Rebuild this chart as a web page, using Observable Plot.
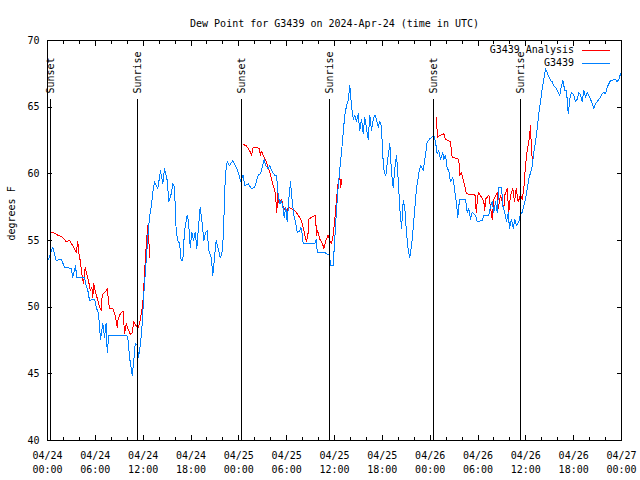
<!DOCTYPE html>
<html><head><meta charset="utf-8">
<script src="https://cdn.jsdelivr.net/npm/d3@7"></script>
<script src="https://cdn.jsdelivr.net/npm/@observablehq/plot@0.6"></script>
<style>body{margin:0;background:#fff} svg path, svg line{shape-rendering:crispEdges}</style>
</head><body><div id="chart"></div>
<script>
// ---- data (hours since 2024-04-24 00:00 UTC, dew point in °F) ----
const obsHours = [0.13,0.66,1.09,1.72,2.13,2.97,3.17,3.51,3.68,4.64,4.85,5.06,5.27,5.90,6.11,6.40,6.65,6.94,7.15,7.36,7.49,7.69,9.87,10.07,10.29,10.62,10.83,11.00,11.25,11.42,11.67,11.88,12.08,12.38,12.58,12.80,13.01,13.21,13.42,13.84,14.17,14.46,14.68,15.02,15.22,15.52,15.72,15.93,16.14,16.34,16.56,16.77,16.97,17.19,17.52,17.69,17.90,18.10,18.31,18.53,18.73,18.94,19.15,19.36,19.61,19.82,20.03,20.23,20.53,20.74,20.95,21.16,21.36,21.66,21.86,22.08,22.20,22.33,22.54,22.83,23.24,23.67,24.05,24.21,24.54,24.74,25.18,25.59,26.00,26.43,26.72,26.97,27.18,27.38,27.68,27.88,28.22,28.51,28.73,28.94,29.14,29.35,29.57,29.69,29.89,30.07,30.27,30.48,30.70,30.90,31.11,31.32,31.65,31.77,31.99,32.07,33.53,33.74,33.83,34.78,35.00,35.34,35.54,35.84,35.96,36.16,36.38,36.67,36.88,37.09,37.29,37.51,37.72,37.92,38.13,38.35,38.55,38.76,38.97,39.17,39.39,39.60,39.80,40.01,40.23,40.43,40.64,40.86,41.06,41.27,41.48,41.68,41.90,42.02,42.24,42.44,42.74,42.94,43.15,43.36,43.57,43.78,43.99,44.19,44.41,44.62,44.82,45.03,45.25,45.45,45.66,45.87,46.07,46.29,46.63,46.83,47.13,47.33,47.63,47.92,48.46,48.67,48.88,49.08,49.30,49.59,49.71,49.92,50.14,50.34,50.55,50.84,51.05,51.27,51.47,51.68,52.43,52.65,52.85,53.06,53.27,53.69,53.90,54.53,54.73,55.36,55.57,55.78,55.98,56.20,56.41,56.61,56.95,57.11,57.36,57.58,57.79,57.95,58.20,58.42,58.62,58.83,59.12,59.33,59.55,59.75,59.96,60.17,60.37,60.59,60.80,61.00,61.21,61.43,61.63,61.84,62.05,62.26,62.47,62.81,63.10,63.31,63.51,63.81,64.06,64.26,64.44,64.64,64.89,65.10,65.32,65.52,65.73,66.02,66.23,66.45,66.65,66.86,67.07,67.27,67.49,67.70,67.90,68.11,68.33,68.53,68.74,68.95,69.16,69.37,69.58,69.78,70.00,70.21,70.41,70.62,70.84,71.04,71.25,71.47,71.67,71.88];
const obsDewpt = [53.6,54.5,53.5,53.6,53.0,52.9,52.25,53.1,52.2,52.2,51.6,51.25,50.5,50.6,50.0,49.5,47.6,48.8,47.75,48.8,46.6,47.9,47.9,47.75,46.25,44.9,46.0,47.25,47.2,46.25,47.25,48.75,51.0,53.5,55.25,56.75,57.5,58.6,59.4,58.9,60.25,59.25,60.4,59.5,57.9,58.5,59.25,59.0,55.75,55.0,54.8,53.5,53.5,55.75,56.9,56.4,54.5,55.6,55.0,55.6,54.4,56.0,57.5,56.5,55.0,55.6,55.75,54.25,53.75,52.4,53.75,55.0,54.5,53.75,53.9,55.5,58.25,60.0,60.9,60.6,61.0,60.5,59.9,59.4,59.9,59.1,59.25,58.9,59.0,59.9,60.0,60.6,61.1,60.6,60.4,60.6,60.1,59.9,59.9,58.4,57.75,58.0,57.4,56.75,57.5,56.4,58.1,59.4,57.9,56.9,56.4,55.6,55.7,56.0,55.4,54.75,54.75,55.1,54.1,54.1,54.0,53.9,53.1,53.1,54.4,56.4,58.4,60.4,61.6,63.1,64.4,65.1,65.5,66.6,65.1,64.1,64.4,63.9,64.5,63.25,64.1,63.0,64.25,63.4,62.6,64.4,63.25,64.1,64.4,64.1,63.5,63.9,63.6,61.6,60.1,59.9,61.4,62.25,60.1,59.0,60.4,61.4,59.6,57.4,55.9,58.0,57.4,55.6,54.25,53.75,54.6,55.9,57.4,58.9,60.25,60.6,60.25,61.1,62.4,62.6,62.9,62.4,61.5,61.75,61.1,61.6,61.1,61.4,60.4,60.25,59.4,59.75,58.9,57.9,56.75,58.1,58.1,57.1,57.4,56.6,57.1,56.9,56.4,56.5,56.9,56.9,57.6,57.9,57.1,57.9,57.1,59.0,59.0,57.6,57.1,56.4,57.1,55.9,56.6,55.9,56.6,56.1,56.4,57.0,57.1,57.6,58.1,58.9,59.6,60.1,60.6,61.6,62.4,63.4,64.5,65.4,66.4,67.1,67.9,67.4,67.0,66.9,66.6,66.4,66.1,65.9,66.5,67.0,66.25,66.25,64.5,65.6,66.1,65.9,65.4,65.6,66.1,65.9,65.4,66.25,65.75,66.1,65.9,65.6,65.25,64.9,65.25,65.4,65.6,65.75,66.0,66.1,66.0,66.5,66.75,67.0,67.0,67.1,67.1,66.9,67.1,67.5];

// analysis series (null = gap between runs)
const anaHours = [0.46,0.88,1.29,1.72,2.13,2.35,2.76,2.97,3.39,3.60,3.80,3.93,4.10,4.30,4.52,4.73,4.93,5.14,5.36,5.56,5.68,5.81,5.98,6.31,6.52,6.74,6.86,7.36,7.49,7.65,7.78,8.19,8.49,8.74,8.82,9.16,9.49,9.66,9.87,10.07,10.41,10.62,10.83,11.13,11.42,11.63,11.75,11.95,12.08,12.26,12.46,12.58,12.71,12.83,
  18.0,
  24.55,24.96,25.38,25.59,25.80,26.22,26.56,26.72,26.84,27.13,27.38,27.68,27.88,28.10,28.31,28.51,28.64,28.76,28.89,29.06,29.35,29.57,29.98,30.19,30.61,31.02,31.45,31.77,32.07,32.28,32.49,32.70,32.78,33.12,33.62,33.74,33.87,34.16,34.50,34.66,34.91,35.21,35.41,35.62,35.84,36.04,36.25,36.47,36.67,36.79,36.92,
  42.0,
  48.76,48.92,49.30,49.71,49.92,50.55,50.76,51.59,51.72,51.93,52.22,52.52,52.65,53.69,53.77,54.03,54.44,54.73,54.85,54.94,55.36,55.78,55.98,56.41,56.53,56.82,57.04,57.24,57.36,57.66,57.86,58.08,58.37,58.58,58.79,59.04,59.33,59.55,59.75,59.96,60.17,60.37,60.59,60.71,60.88];
const anaDewpt = [55.6,55.55,55.4,55.3,55.1,54.9,55.0,54.8,54.4,54.1,54.9,54.1,53.5,52.5,51.75,53.0,52.5,52.0,51.25,51.5,50.75,51.75,51.25,50.5,50.0,49.75,50.9,51.25,51.4,50.5,49.9,49.9,49.4,48.5,49.0,49.55,49.7,48.0,48.75,48.4,47.95,48.1,48.9,48.6,48.5,49.0,49.5,50.25,51.5,53.5,55.25,56.1,55.0,53.75,
  null,
  62.2,62.1,61.7,61.4,62.0,62.0,61.9,61.4,61.7,61.3,61.0,60.5,60.1,59.6,59.1,58.75,58.1,57.1,58.5,57.75,58.1,57.5,57.1,57.5,57.4,57.25,56.9,56.6,56.0,55.4,54.9,55.6,56.6,56.75,56.9,55.4,55.75,55.1,54.75,54.4,55.0,55.4,55.0,54.75,55.4,56.6,58.1,59.4,59.75,59.0,59.6,
  null,
  64.25,62.75,62.9,63.0,62.6,62.4,61.25,61.1,59.9,60.1,59.4,58.6,58.5,58.4,57.1,58.6,58.25,57.9,57.25,58.1,58.4,56.6,58.1,58.6,57.4,58.4,57.9,57.4,58.4,58.9,57.1,58.4,58.9,57.9,58.9,57.9,58.4,58.1,58.9,60.6,61.75,62.4,63.6,61.6,60.9];

const sunHours  = [0.38, 11.33, 24.37, 35.42, 48.46, 59.38];
const sunLabels = ["Sunset","Sunrise","Sunset","Sunrise","Sunset","Sunrise"];
const yTicks = [40,45,50,55,60,65,70];
const seriesNames = ["G3439 Analysis","G3439"];
const seriesColors = ["#ff0000","#0080ff"];
const titleText = "Dew Point for G3439 on 2024-Apr-24 (time in UTC)";
const yLabel = "degrees F";

// ---- build tables ----
const T0 = Date.UTC(2024,3,24);
const toDate = h => new Date(T0 + h*3600000);
const obs = obsHours.map((h,i) => ({t: toDate(h), v: obsDewpt[i]}));
const ana = anaHours.map((h,i) => ({t: toDate(h), v: anaDewpt[i]}));
const sun = sunHours.map((h,i) => ({t: toDate(h), label: sunLabels[i]}));
const start = toDate(0), end = toDate(72);
const majorTicks = d3.utcHour.every(6).range(start, toDate(72.01));
const minorTicks = d3.utcHour.every(2).range(start, toDate(72.01));
const fmt = d3.utcFormat("%m/%d\n%H:%M");

const chart = Plot.plot({
  width: 640, height: 480,
  marginLeft: 47, marginRight: 19, marginTop: 40, marginBottom: 40,
  style: {fontFamily: "DejaVu Sans Mono, monospace", fontSize: "10px", background: "#fff", color: "#000"},
  x: {type: "utc", domain: [start, end]},
  y: {domain: [40, 70]},
  marks: [
    Plot.line(ana, {x: "t", y: "v", stroke: seriesColors[0], strokeWidth: 1}),
    Plot.line(obs, {x: "t", y: "v", stroke: seriesColors[1], strokeWidth: 1}),
    Plot.ruleX(sun, {x: "t", stroke: "#000", strokeWidth: 1, insetTop: 59}),
    Plot.text(sun, {x: "t", text: "label", frameAnchor: "top", dy: 53, rotate: -90, textAnchor: "start", lineAnchor: "middle", fill: "#000"}),
    Plot.frame({stroke: "#000"}),
    Plot.axisX({anchor: "bottom", ticks: minorTicks, tickSize: -3, text: null, label: null}),
    Plot.axisX({anchor: "bottom", ticks: majorTicks, tickSize: -5, text: null, label: null}),
    Plot.axisX({anchor: "top", ticks: minorTicks, tickSize: -3, text: null, label: null}),
    Plot.axisX({anchor: "top", ticks: majorTicks, tickSize: -5, text: null, label: null}),
    Plot.axisX({anchor: "bottom", ticks: majorTicks, tickSize: 0, tickPadding: 9, tickFormat: fmt, lineHeight: 1.35, label: null}),
    Plot.axisY({anchor: "left", ticks: yTicks, tickSize: -5, text: null, label: null}),
    Plot.axisY({anchor: "right", ticks: yTicks, tickSize: -5, text: null, label: null}),
    Plot.axisY({anchor: "left", ticks: yTicks, tickSize: 0, tickPadding: 8, label: null}),
    Plot.text([yLabel], {frameAnchor: "left", dx: -36, rotate: -90, fill: "#000"}),
    Plot.text([titleText], {frameAnchor: "top", dy: -21, fill: "#000"})
  ]
});
document.getElementById("chart").appendChild(chart);

// legend (top-right, inside frame)
const svg = d3.select(chart);
const lg = svg.append("g").attr("font-family", "DejaVu Sans Mono, monospace").attr("font-size", 10);
seriesNames.forEach((name, i) => {
  const y = 50 + i*13;
  lg.append("text").attr("x", 574).attr("y", y).attr("dy", "0.32em").attr("text-anchor", "end").attr("fill", "#000").text(name);
  lg.append("line").attr("x1", 582).attr("x2", 610).attr("y1", y + 0.5).attr("y2", y + 0.5).attr("stroke", seriesColors[i]).attr("stroke-width", 1);
});
</script>
</body></html>
